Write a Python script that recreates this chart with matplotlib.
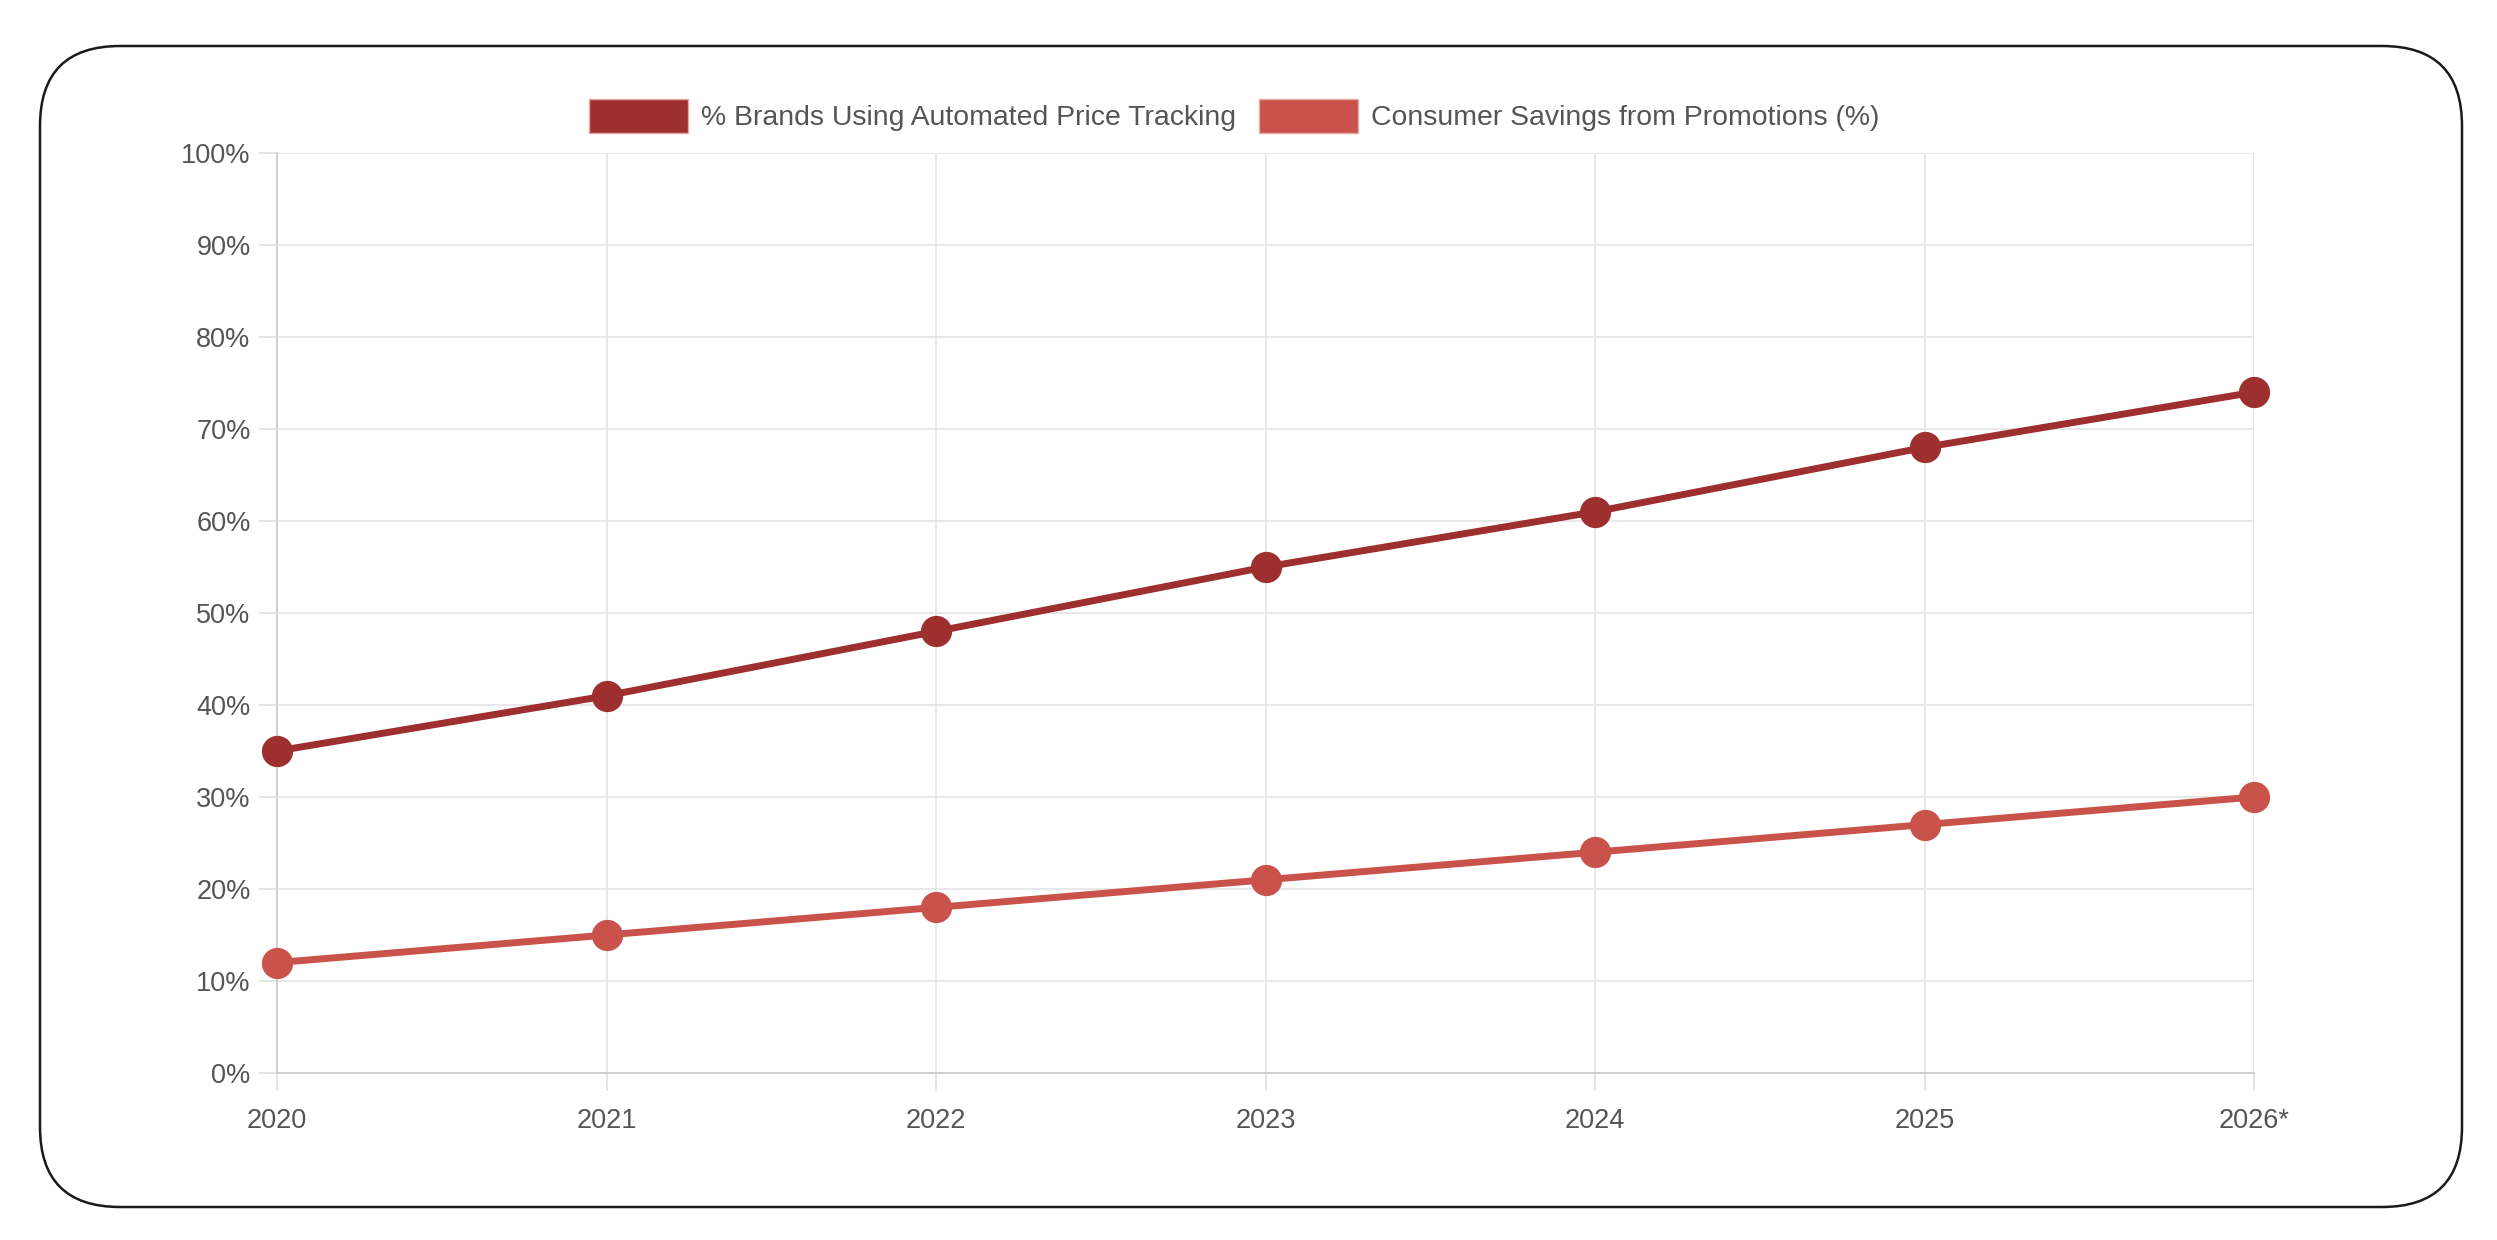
import matplotlib.pyplot as plt
from matplotlib.patches import FancyBboxPatch, Patch
from matplotlib.transforms import IdentityTransform

plt.rcParams['font.family'] = ['Liberation Sans', 'DejaVu Sans']

years = ['2020', '2021', '2022', '2023', '2024', '2025', '2026*']
brands_tracking = [35, 41, 48, 55, 61, 68, 74]
consumer_savings = [12, 15, 18, 21, 24, 27, 30]
labels = ['% Brands Using Automated Price Tracking', 'Consumer Savings from Promotions (%)']
colors = ['#9e2f2f', '#c9534a']

W, H = 2497, 1240
fig = plt.figure(figsize=(W / 100, H / 100), dpi=100)
fig.patch.set_facecolor('white')

# rounded outer frame, in pixels
frame = FancyBboxPatch((40, H - 1207), 2462 - 40, 1207 - 46,
                       boxstyle='round,pad=0,rounding_size=80',
                       transform=IdentityTransform(), facecolor='none',
                       edgecolor='#1a1a1a', linewidth=1.8)
fig.patches.append(frame)

ax = fig.add_axes([277 / W, 1 - 1073 / H, (2254 - 277) / W, (1073 - 153) / H])
x = list(range(len(years)))

for vals, c in zip([brands_tracking, consumer_savings], colors):
    ax.plot(x, vals, color=c, lw=5, marker='o', ms=21.5, mfc=c, mec=c,
            zorder=3, clip_on=False)

ax.set_xlim(0, len(years) - 1)
ax.set_ylim(0, 100)
ax.set_yticks(range(0, 101, 10))
ax.set_yticklabels([f'{v}%' for v in range(0, 101, 10)])
ax.set_xticks(x)
ax.set_xticklabels(years)

ax.grid(True, color='#e4e4e4', lw=1.2)
ax.set_axisbelow(True)
for s in ['top', 'right']:
    ax.spines[s].set_visible(False)
for s in ['left', 'bottom']:
    ax.spines[s].set_color('#cfcfcf')
    ax.spines[s].set_linewidth(1.4)
ax.tick_params(axis='both', colors='#e0e0e0', length=13, width=1.2,
               labelsize=19.5, labelcolor='#555555')
ax.tick_params(axis='x', pad=12)
ax.tick_params(axis='y', pad=6)

handles = [Patch(facecolor=c, edgecolor='#e8a8a8', lw=1) for c in colors]
fig.legend(handles, labels, loc='center', bbox_to_anchor=(1234 / W, 1 - 116 / H),
           ncol=2, frameon=False, fontsize=20.4, labelcolor='#555555',
           handlelength=3.5, handleheight=1.52, handletextpad=0.45,
           columnspacing=0.8)

fig.savefig('out.png', dpi=100, facecolor='white')
